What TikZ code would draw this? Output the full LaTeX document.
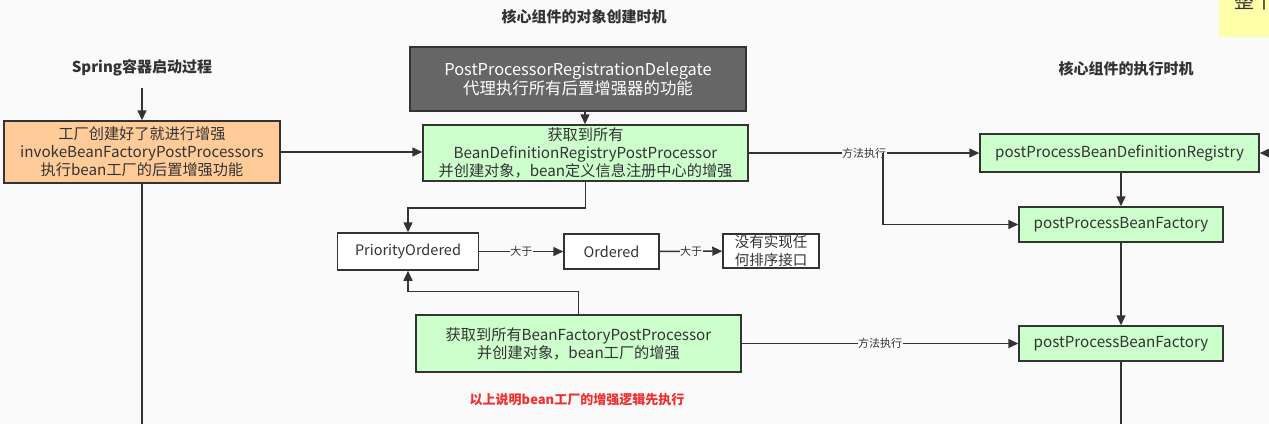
\documentclass[tikz,border=0pt]{standalone}
\usepackage{fontspec}
\setmainfont{Noto Sans CJK SC}
\usetikzlibrary{arrows.meta}

\begin{document}
\begin{tikzpicture}[x=1pt,y=-1pt,
  box/.style={draw=line,line width=1.5pt,inner sep=0pt,align=center,
    text=txt,font=\fontsize{15.2}{18}\selectfont},
  flow/.style={draw=line,line width=1.5pt,-{Triangle[length=10pt,width=9pt]}},
  wire/.style={draw=line,line width=1.5pt},
  lbl/.style={fill=bg,inner sep=0.5pt,text=txt,font=\fontsize{11}{13}\selectfont},
  title/.style={text=txt,font=\fontsize{15}{18}\selectfont\bfseries}]
 \definecolor{bg}{RGB}{250,250,250}
 \definecolor{line}{RGB}{51,51,51}
 \definecolor{txt}{RGB}{51,51,51}
 \definecolor{orange1}{RGB}{255,204,153}
 \definecolor{green1}{RGB}{204,255,204}
 \definecolor{dark1}{RGB}{102,102,102}
 \definecolor{yellow1}{RGB}{255,255,170}
 \definecolor{red1}{RGB}{240,48,48}
 \path[use as bounding box,fill=bg] (0,0) rectangle (1269,424);
 \fill[yellow1] (1219,0) rectangle (1269,37);
 \begin{scope}
   \clip (1219,0) rectangle (1269,37);
   \node[anchor=base,text=txt,font=\fontsize{20}{20}\selectfont] (memo) at (1254,8) {整个};
 \end{scope}
 \node[title] (spring) at (142,68) {Spring容器启动过程};
 \node[title] (create) at (584,17) {核心组件的对象创建时机};
 \node[title] (execute) at (1126,69) {核心组件的执行时机};
 \node[box,fill=orange1,minimum width=276pt,minimum height=62pt] (invoke) at (142,152)
   {工厂创建好了就进行增强\\invokeBeanFactoryPostProcessors\\执行bean工厂的后置增强功能};
 \node[box,fill=dark1,text=white,font=\fontsize{16.4}{19}\selectfont,
   minimum width=336pt,minimum height=64pt] (delegate) at (578,79)
   {PostProcessorRegistrationDelegate\\代理执行所有后置增强器的功能};
 \node[box,fill=green1,minimum width=325pt,minimum height=56pt] (registry) at (585.5,153)
   {获取到所有\\BeanDefinitionRegistryPostProcessor\\并创建对象，bean定义信息注册中心的增强};
 \node[box,fill=white,font=\fontsize{14.5}{18}\selectfont,minimum width=141pt,minimum height=37pt] (prio) at (408,251.5) {PriorityOrdered};
 \node[box,fill=white,font=\fontsize{14.5}{18}\selectfont,minimum width=95pt,minimum height=35pt] (ordered) at (611.5,251.5) {Ordered};
 \node[box,fill=white,font=\fontsize{14.5}{18}\selectfont,minimum width=96pt,minimum height=34pt] (noorder) at (771,251) {没有实现任\\何排序接口};
 \node[box,fill=green1,minimum width=325pt,minimum height=57pt] (factory) at (578.5,343.5)
   {获取到所有BeanFactoryPostProcessor\\并创建对象，bean工厂的增强};
 \node[box,fill=green1,minimum width=279pt,minimum height=38pt] (pdr) at (1119.5,153) {postProcessBeanDefinitionRegistry};
 \foreach \nm/\yp in {pbf1/224.5, pbf2/343.5} {
   \node[box,fill=green1,minimum width=204pt,minimum height=35pt] (\nm) at (1121,\yp) {postProcessBeanFactory};
 }
 \node[text=red1,font=\fontsize{13}{16}\selectfont\bfseries] (note) at (577,400) {以上说明bean工厂的增强逻辑先执行};
 \coordinate (split) at (883,153);
 \coordinate (leftend) at (142,424);
 \coordinate (rightend) at (1121,424);
 \coordinate (rightin) at (1269,153);
 \draw[flow] ([yshift=-8pt]spring.south) -- (invoke);
 \draw[flow] (invoke.east) -- (invoke.east -| registry.west);
 \draw[flow] ([xshift=7pt]delegate.south) -- ([xshift=7pt]delegate.south |- registry.north);
 \draw[flow] (registry.south) -- ++(0,26) -| (prio.north);
 \draw[flow] (factory.north) -- ++(0,-23) -| (prio.south);
 \draw[flow] (prio) -- node[lbl] {大于} (ordered);
 \draw[flow] (ordered) -- node[lbl] {大于} (noorder);
 \draw[flow] (registry) -- node[lbl] {方法执行} (pdr);
 \draw[flow] (split) |- (pbf1);
 \draw[flow] (pdr.south -| pbf1) -- (pbf1);
 \draw[flow] (pbf1) -- (pbf2);
 \draw[flow] (factory) -- node[lbl] {方法执行} (pbf2);
 \draw[flow] (rightin) -- (pdr);
 \draw[wire] (invoke) -- (leftend);
 \draw[wire] (pbf2) -- (rightend);
\end{tikzpicture}
\end{document}
